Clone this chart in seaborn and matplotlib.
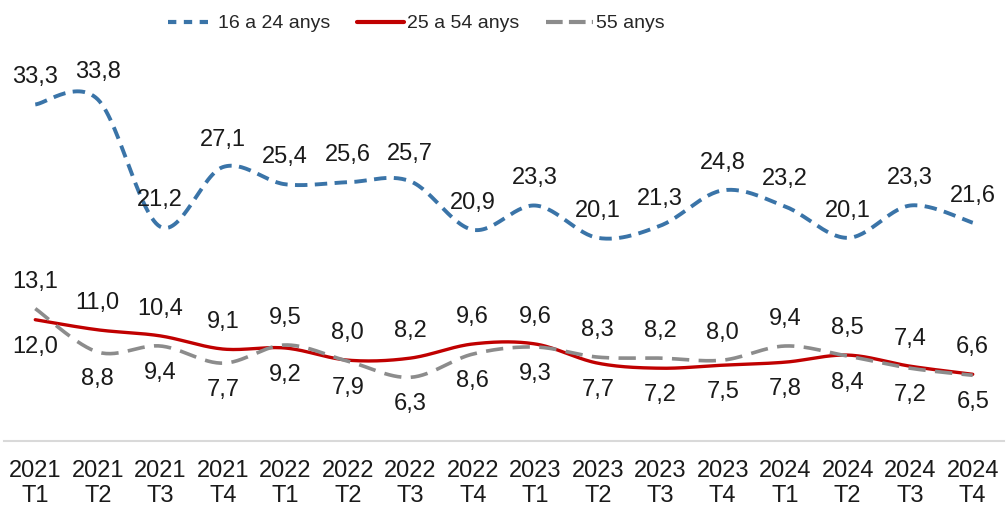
#!/usr/bin/env python3
"""Atur per grups d'edat, 2021T1-2024T4 (smoothed lines, Excel style)."""

import matplotlib
matplotlib.use("Agg")
import matplotlib.pyplot as plt
import numpy as np
import pandas as pd
import seaborn as sns
from matplotlib.lines import Line2D

periods = [
    "2021\nT1", "2021\nT2", "2021\nT3", "2021\nT4",
    "2022\nT1", "2022\nT2", "2022\nT3", "2022\nT4",
    "2023\nT1", "2023\nT2", "2023\nT3", "2023\nT4",
    "2024\nT1", "2024\nT2", "2024\nT3", "2024\nT4",
]
young = [33.3, 33.8, 21.2, 27.1, 25.4, 25.6, 25.7, 20.9,
         23.3, 20.1, 21.3, 24.8, 23.2, 20.1, 23.3, 21.6]
middle = [12.0, 11.0, 10.4, 9.1, 9.2, 8.0, 8.2, 9.6,
          9.6, 7.7, 7.2, 7.5, 7.8, 8.5, 7.4, 6.6]
older = [13.1, 8.8, 9.4, 7.7, 9.5, 7.9, 6.3, 8.6,
         9.3, 8.3, 8.2, 8.0, 9.4, 8.4, 7.2, 6.5]
series_names = ["16 a 24 anys", "25 a 54 anys", "55 anys"]

BLUE = "#3A74A8"
RED = "#C00000"
GRAY = "#8C8C8C"
TEXT = "#1A1A1A"

sns.set_theme(style="white")
plt.rcParams["font.family"] = ["Liberation Sans", "DejaVu Sans"]


def smooth(values, steps=30):
    """Catmull-Rom curve through the points, like Excel's 'smoothed line'."""
    p = np.asarray(values, dtype=float)
    x = np.arange(len(p), dtype=float)
    px = np.concatenate([[x[0]], x, [x[-1]]])
    py = np.concatenate([[p[0]], p, [p[-1]]])
    xs, ys = [], []
    t = np.linspace(0, 1, steps, endpoint=False)
    for i in range(1, len(px) - 2):
        for arr, out in ((px, xs), (py, ys)):
            p0, p1, p2, p3 = arr[i - 1], arr[i], arr[i + 1], arr[i + 2]
            c1 = p1 + (p2 - p0) / 6
            c2 = p2 - (p3 - p1) / 6
            out.extend((1 - t) ** 3 * p1 + 3 * (1 - t) ** 2 * t * c1
                       + 3 * (1 - t) * t ** 2 * c2 + t ** 3 * p2)
    xs.append(x[-1])
    ys.append(p[-1])
    return pd.DataFrame({"x": xs, "y": ys})


def label(ax, x, y, above, offset=19.5):
    ax.annotate(f"{y:.1f}".replace(".", ","), (x, y),
                xytext=(0, offset if above else -offset), textcoords="offset points",
                ha="center", va="center", fontsize=17, color=TEXT, clip_on=False)


fig = plt.figure(figsize=(10.06, 5.11), dpi=100)
ax = fig.add_axes([0.004, 0.137, 0.994, 0.712])

styles = [
    (young, BLUE, 2.8, (0, (3.2, 1.9))),
    (middle, RED, 2.4, "-"),
    (older, GRAY, 2.6, (0, (4.8, 2.6))),
]
for values, color, lw, ls in styles:
    sns.lineplot(data=smooth(values), x="x", y="y", ax=ax, color=color,
                 linewidth=lw, linestyle=ls, sort=False, estimator=None,
                 dash_capstyle="butt")

for i, v in enumerate(young):
    label(ax, i, v, True)
for i, (m, o) in enumerate(zip(middle, older)):
    label(ax, i, m, m >= o)
    label(ax, i, o, o > m)

ax.set_xlim(-0.5, len(periods) - 0.5)
ax.set_ylim(0, 36)
ax.set_xticks(range(len(periods)))
ax.set_xticklabels(periods, fontsize=17, color=TEXT, linespacing=1.15)
ax.tick_params(axis="x", length=0, pad=14)
ax.set_yticks([])
ax.set_xlabel("")
ax.set_ylabel("")
for side in ("top", "right", "left"):
    ax.spines[side].set_visible(False)
ax.spines["bottom"].set_color("#D9D9D9")
ax.spines["bottom"].set_linewidth(1.5)

handles = [
    Line2D([], [], color=BLUE, linewidth=3, linestyle=(0, (2.0, 1.8)), dash_capstyle="butt"),
    Line2D([], [], color=RED, linewidth=3, linestyle="-"),
    Line2D([], [], color=GRAY, linewidth=3, linestyle=(0, (4.0, 1.5)), dash_capstyle="butt"),
]
fig.legend(handles, series_names, loc="center", bbox_to_anchor=(0.414, 0.954),
           ncol=3, frameon=False, handlelength=2.4, handletextpad=0.15,
           columnspacing=1.4, prop={"size": 14})

fig.savefig("out.png", dpi=100)
